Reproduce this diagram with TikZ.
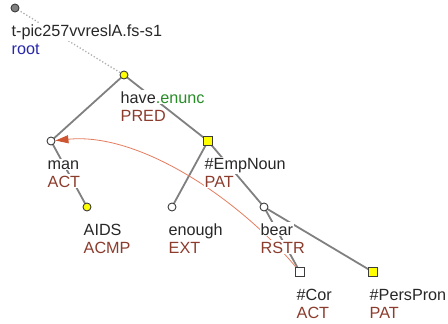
\documentclass[tikz,border=0pt]{standalone}
\usepackage{fontspec}
\setmainfont{Liberation Sans}
\usetikzlibrary{arrows.meta}
\pgfdeclarelayer{edges}
\pgfdeclarelayer{labels}
\pgfsetlayers{edges,labels,main}
\definecolor{txt}{RGB}{40,40,40}
\definecolor{fun}{RGB}{140,60,45}
\definecolor{rootblue}{RGB}{40,40,170}
\definecolor{grn}{RGB}{40,140,40}
\definecolor{edgegray}{RGB}{128,128,128}
\definecolor{dotgray}{RGB}{175,175,175}
\definecolor{corefline}{RGB}{228,125,95}
\definecolor{corefhead}{RGB}{205,85,50}
\definecolor{mk}{RGB}{60,60,60}
\definecolor{yel}{RGB}{255,255,0}
\begin{document}
\begin{tikzpicture}[x=1pt,y=-1pt,
  font=\fontsize{16.2}{18}\selectfont,
  mcirc/.style={circle,draw=mk,line width=0.9pt,inner sep=0pt,minimum size=8pt},
  msq/.style={rectangle,draw=mk,line width=0.9pt,inner sep=0pt,minimum size=8.5pt},
  word/.style={anchor=base west,fill=white,inner xsep=0.5pt,inner ysep=1.3pt,text=txt},
  func/.style={anchor=base west,fill=white,inner xsep=0.5pt,inner ysep=1.3pt,text=fun},
  treeedge/.style={draw=edgegray,line width=1.8pt},
  rootedge/.style={draw=dotgray,line width=1.3pt,dotted},
  coref/.style={draw=corefline,line width=0.8pt,-{Triangle[length=13pt,width=8pt,fill=corefhead,color=corefhead]}}
]
\useasboundingbox (0,0) rectangle (448,324);
% markers
\node[mcirc,fill=gray] (root) at (15,8) {};
\node[mcirc,fill=yel] (have) at (124,75) {};
\node[mcirc,fill=white] (man) at (51,141) {};
\node[msq,fill=yel] (emp) at (208,141) {};
\node[mcirc,fill=yel] (aids) at (87,207) {};
\node[mcirc,fill=white] (enough) at (172,207) {};
\node[mcirc,fill=white] (bear) at (264,207) {};
\node[msq,fill=white] (cor) at (300,272) {};
\node[msq,fill=yel] (pers) at (373,272) {};
% labels
\begin{pgfonlayer}{labels}
\node[word] (rootw) at (11,36) {t-pic257vvreslA.fs-s1};
\node[func,text=rootblue] (rootf) at (11,54) {root};
\node[word] (havew) at (120,103) {have\textcolor{grn}{.enunc}};
\node[func] (havef) at (120,121) {PRED};
\node[word] (manw) at (47,169) {man};
\node[func] (manf) at (47,187) {ACT};
\node[word] (empw) at (204,169) {\#EmpNoun};
\node[func] (empf) at (204,187) {PAT};
\node[word] (aidsw) at (83,235) {AIDS};
\node[func] (aidsf) at (83,253) {ACMP};
\node[word] (enoughw) at (168,235) {enough};
\node[func] (enoughf) at (168,253) {EXT};
\node[word] (bearw) at (260,235) {bear};
\node[func] (bearf) at (260,253) {RSTR};
\node[word] (corw) at (296,300) {\#Cor};
\node[func] (corf) at (296,318) {ACT};
\node[word] (persw) at (369,300) {\#PersPron};
\node[func] (persf) at (369,318) {PAT};
\end{pgfonlayer}
% edges
\begin{pgfonlayer}{edges}
\draw[rootedge] (root.center) -- (have.center);
\draw[treeedge] (have.center) -- (man.center);
\draw[treeedge] (have.center) -- (emp.center);
\draw[treeedge] (man.center) -- (aids.center);
\draw[treeedge] (emp.center) -- (enough.center);
\draw[treeedge] (emp.center) -- (bear.center);
\draw[treeedge] (bear.center) -- (cor.center);
\draw[treeedge] (bear.center) -- (pers.center);
\draw[coref] (cor) .. controls (240,200) and (140,132) .. (man);
\end{pgfonlayer}
\end{tikzpicture}
\end{document}
